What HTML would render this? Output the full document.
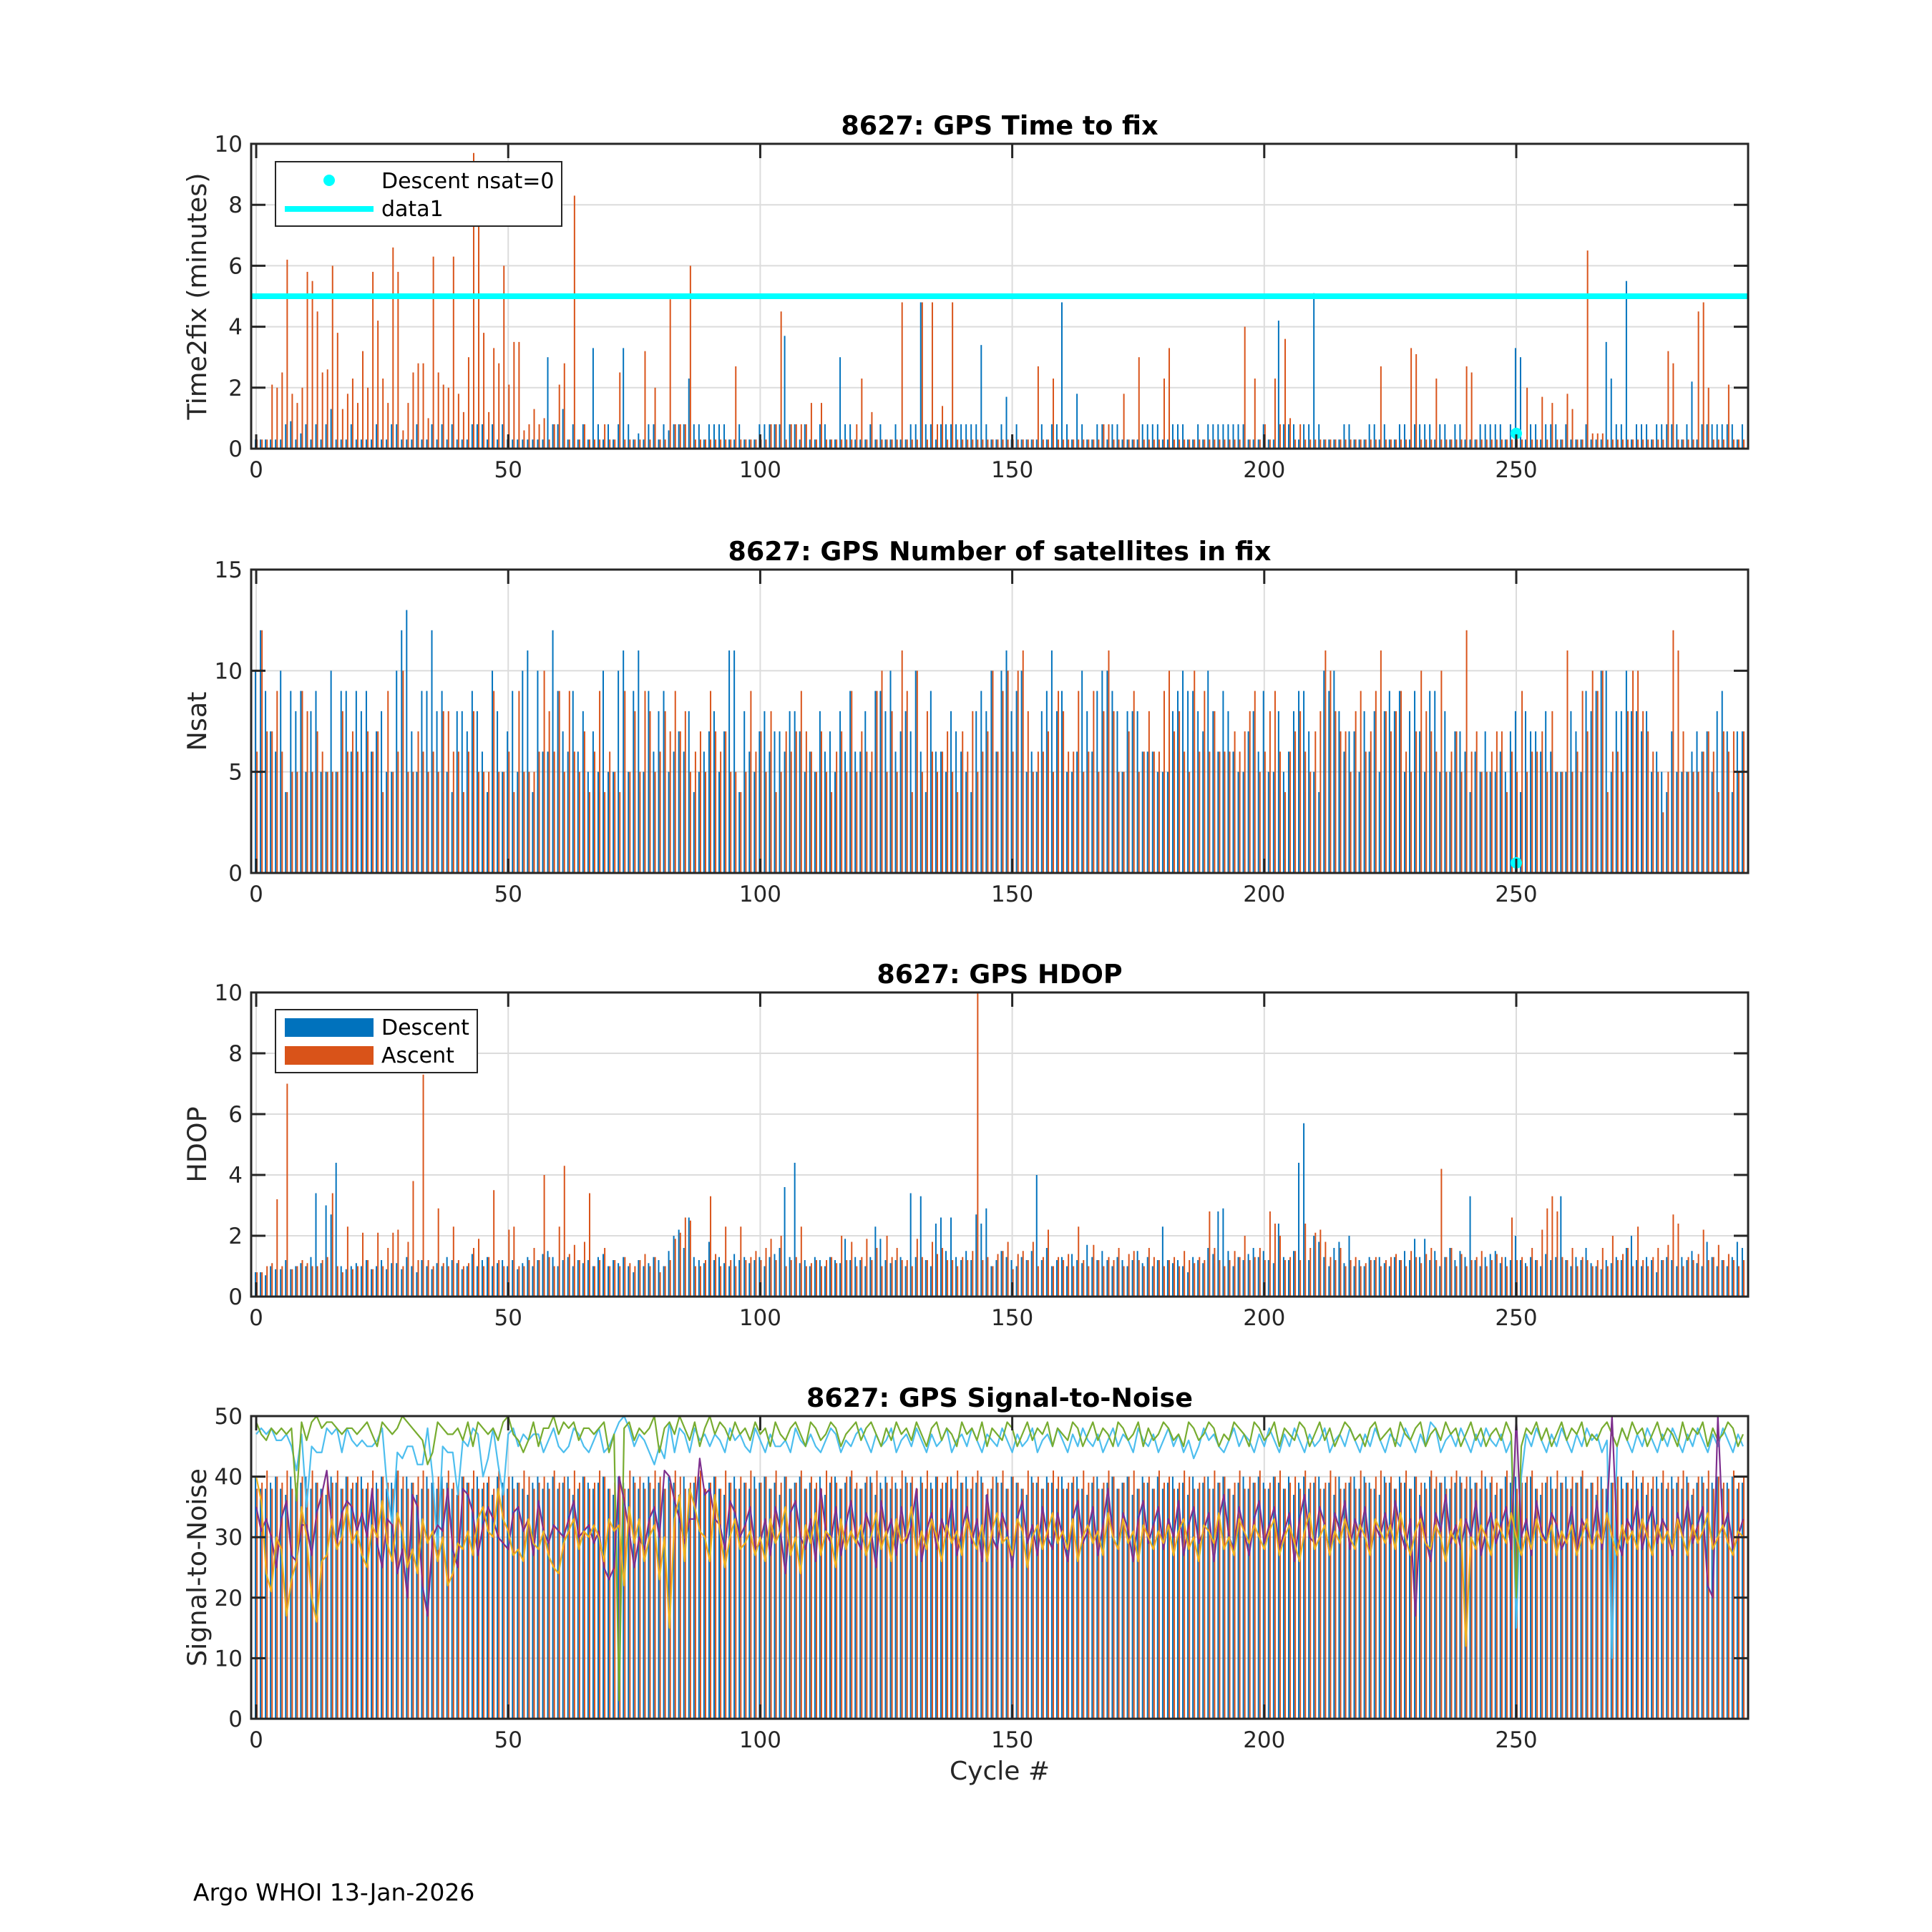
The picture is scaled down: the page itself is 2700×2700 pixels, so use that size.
<!DOCTYPE html>
<html><head><meta charset="utf-8"><style>
html,body{margin:0;padding:0;background:#fff}
svg{display:block}
text{font-family:"DejaVu Sans","Liberation Sans",sans-serif;fill:#262626}
</style></head><body>
<svg id="fig" width="2700" height="2700" viewBox="0 0 2700 2700" xmlns="http://www.w3.org/2000/svg">
<rect width="2700" height="2700" fill="#fff"/>
<text x="270" y="2656" font-size="33" style="fill:#000">Argo WHOI 13-Jan-2026</text>
<text x="1397" y="2487" font-size="36" text-anchor="middle">Cycle #</text>
</svg>
<script>
const timeD=[0.3,0.3,0.3,0.3,0.3,0.3,0.8,0.9,0.3,0.5,0.8,0.3,0.8,0.3,0.8,1.3,0.3,0.3,0.3,0.8,
0.3,0.3,0.3,0.3,0.8,0.3,0.3,0.8,0.8,0.3,0.3,0.3,0.8,0.3,0.3,0.8,0.3,0.8,0.3,0.8,
0.3,0.3,0.3,0.8,0.8,0.8,0.3,0.8,0.3,0.8,0.3,0.3,0.3,0.3,0.3,0.3,0.3,0.3,3.0,0.8,
0.8,1.3,0.3,0.8,0.3,0.8,0.3,3.3,0.8,0.3,0.8,0.3,0.8,3.3,0.8,0.3,0.5,0.3,0.8,0.8,
0.3,0.8,0.6,0.8,0.8,0.8,2.3,0.8,0.8,0.3,0.8,0.8,0.8,0.8,0.3,0.3,0.8,0.3,0.3,0.3,
0.8,0.8,0.8,0.8,0.8,3.7,0.8,0.8,0.3,0.8,0.3,0.3,0.8,0.8,0.3,0.3,3.0,0.8,0.8,0.3,
0.3,0.3,0.8,0.3,0.8,0.3,0.3,0.8,0.3,0.3,0.8,0.8,4.8,0.8,0.8,0.3,0.8,0.8,0.8,0.8,
0.8,0.8,0.8,0.8,3.4,0.8,0.3,0.3,0.8,1.7,0.3,0.8,0.3,0.3,0.3,0.3,0.8,0.3,0.8,0.8,
4.8,0.8,0.3,1.8,0.8,0.3,0.3,0.8,0.8,0.3,0.8,0.8,0.3,0.3,0.3,0.3,0.8,0.8,0.8,0.8,
0.3,0.3,0.8,0.8,0.8,0.3,0.3,0.8,0.3,0.8,0.8,0.8,0.8,0.8,0.8,0.8,0.8,0.3,0.3,0.3,
0.8,0.3,0.3,4.2,0.8,0.8,0.8,0.3,0.8,0.8,5.1,0.8,0.3,0.3,0.3,0.3,0.8,0.8,0.3,0.3,
0.3,0.8,0.8,0.3,0.8,0.3,0.3,0.8,0.8,0.3,0.8,0.8,0.8,0.8,0.3,0.8,0.8,0.3,0.8,0.8,
0.3,0.3,0.3,0.8,0.8,0.8,0.8,0.8,0.3,0.8,3.3,3.0,0.3,0.8,0.8,0.3,0.8,0.8,0.8,0.3,
0.8,0.3,0.3,0.3,0.8,0.3,0.3,0.3,3.5,2.3,0.8,0.8,5.5,0.3,0.8,0.8,0.8,0.3,0.8,0.8,
0.8,0.8,0.8,0.3,0.8,2.2,0.3,0.8,0.8,0.8,0.8,0.8,0.8,0.8,0.3,0.8];
const timeA=[0.3,0.3,0.3,2.1,2.0,2.5,6.2,1.8,1.5,2.0,5.8,5.5,4.5,2.5,2.6,6.0,3.8,1.3,1.8,2.3,
1.5,3.2,2.0,5.8,4.2,2.3,1.5,6.6,5.8,0.6,1.5,2.5,2.8,2.8,1.0,6.3,2.5,2.1,2.0,6.3,
1.8,1.2,3.0,9.7,7.8,3.8,1.2,3.3,2.8,6.0,2.1,3.5,3.5,0.6,0.8,1.3,0.8,1.0,0.3,0.8,
2.1,2.8,0.3,8.3,0.3,0.8,0.3,0.3,0.3,0.8,0.3,0.3,2.5,0.3,0.3,0.3,0.3,3.2,0.3,2.0,
0.3,0.3,4.9,0.8,0.8,0.8,6.0,0.3,0.3,0.3,0.3,0.3,0.3,0.3,0.3,2.7,0.3,0.3,0.3,0.3,
0.3,0.3,0.8,0.8,4.5,0.3,0.8,0.8,0.8,0.8,1.5,0.3,1.5,0.3,0.3,0.3,0.3,0.3,0.3,0.8,
2.3,0.3,1.2,0.3,0.3,0.3,0.3,0.3,4.8,0.3,0.3,0.3,4.8,0.3,4.8,0.8,1.4,0.3,4.8,0.3,
0.3,0.3,0.3,0.3,0.3,0.3,0.3,0.3,0.3,0.3,0.3,0.3,0.3,0.3,0.3,2.7,0.3,0.3,2.3,0.3,
0.3,0.3,0.3,0.3,0.3,0.3,0.3,0.3,0.8,0.8,0.3,0.3,1.8,0.3,0.3,3.0,0.3,0.3,0.3,0.3,
2.3,3.3,0.3,0.3,0.3,0.3,0.3,0.3,0.3,0.3,0.3,0.3,0.3,0.3,0.3,0.3,4.0,0.3,2.3,0.3,
0.8,0.3,2.3,0.8,3.6,1.0,0.3,0.8,0.3,0.3,0.3,0.3,0.3,0.3,0.3,0.3,0.3,0.3,0.3,0.3,
0.3,0.3,0.3,2.7,0.3,0.3,0.3,0.3,0.3,3.3,3.1,0.3,0.3,0.3,2.3,0.3,0.3,0.3,0.3,0.3,
2.7,2.5,0.3,0.3,0.3,0.3,0.3,0.3,0.3,0.3,0.3,0.3,2.0,0.3,0.3,1.7,0.3,1.5,0.3,0.3,
1.8,1.3,0.3,0.3,6.5,0.5,0.5,0.5,0.3,0.3,0.3,0.3,0.3,0.3,0.3,0.3,0.3,0.3,0.3,0.3,
3.2,2.8,0.3,0.3,0.3,0.3,4.5,4.8,2.0,0.3,0.3,0.3,2.1,0.3,0.3,0.3];
const nsatD=[10,12,9,7,6,10,4,9,8,9,5,8,9,5,5,10,5,9,9,6,
9,8,9,6,7,8,5,5,10,12,13,7,5,9,9,12,8,9,5,4,
8,8,7,9,8,6,4,10,8,5,7,9,5,10,11,4,10,6,6,12,
9,7,6,9,6,8,5,7,5,10,5,5,10,11,5,9,11,5,9,6,
8,9,5,6,7,6,8,4,5,6,7,8,5,7,11,11,4,8,6,5,
7,8,6,7,7,6,8,8,7,5,6,5,8,6,7,5,8,6,9,6,
6,8,5,9,9,8,10,6,7,8,7,10,6,4,9,6,6,5,8,7,
6,5,4,8,9,8,10,6,10,11,8,9,10,5,6,5,8,9,11,8,
9,5,5,6,10,8,6,9,10,10,9,8,5,8,8,8,6,6,6,5,
5,5,8,9,10,9,9,8,7,10,8,6,9,8,6,5,5,7,8,6,
9,5,5,8,5,6,8,9,9,7,5,4,10,9,10,8,6,7,7,5,
8,6,8,5,8,9,8,9,5,8,9,7,5,9,9,5,8,5,7,7,
6,4,6,5,7,5,5,6,5,7,8,4,8,7,7,6,8,6,5,5,
5,8,7,5,9,8,9,10,10,5,8,8,10,8,8,7,8,5,6,5,
4,7,5,5,5,6,7,6,7,5,8,9,7,4,7,7];
const nsatA=[6,12,7,7,9,6,4,5,5,9,8,5,7,6,5,5,5,8,6,7,
6,5,7,6,7,4,9,5,6,10,5,5,7,6,5,6,5,8,8,6,
6,4,6,8,5,5,5,9,5,5,6,4,9,5,5,5,6,10,8,6,
9,5,9,6,5,7,4,6,9,4,6,5,4,9,5,8,5,9,8,5,
6,8,7,9,7,8,5,6,7,5,9,7,6,7,5,5,4,5,9,6,
7,5,8,4,5,7,6,7,9,7,6,5,7,5,4,6,7,5,9,5,
7,6,6,9,10,5,8,5,11,9,4,10,5,8,6,5,6,7,5,4,
7,6,8,5,6,7,10,6,9,10,6,10,11,8,5,6,6,7,5,9,
8,6,6,9,5,6,9,5,8,11,8,5,5,7,9,5,6,8,6,6,
9,10,7,8,6,5,10,6,9,6,8,6,6,6,7,6,7,8,9,5,
6,8,9,6,4,6,7,8,6,5,7,8,11,10,8,7,7,5,8,9,
6,7,9,11,8,7,8,9,6,5,7,10,8,7,6,10,5,6,7,5,
12,6,7,5,5,6,7,7,4,6,5,9,5,6,6,7,5,8,5,5,
11,5,6,9,7,10,9,10,4,6,6,5,8,10,10,8,7,6,5,3,
5,12,11,7,5,5,5,6,7,6,4,7,6,7,5,7];
const hdopD=[0.8,0.8,0.7,1.0,0.9,0.9,1.2,0.9,1.0,1.1,1.0,1.3,3.4,1.1,3.0,2.7,4.4,1.0,0.9,1.0,
1.1,1.0,1.2,0.9,1.0,1.2,0.9,1.1,1.1,0.9,1.3,1.0,0.8,1.2,1.0,0.9,1.1,1.0,1.3,1.2,
1.1,0.9,1.0,1.4,1.0,1.2,1.3,1.0,1.1,1.2,1.0,1.2,0.9,1.1,1.3,1.0,1.2,1.4,1.5,1.3,
1.0,1.2,1.3,1.0,1.2,1.1,1.2,1.0,1.3,1.4,1.0,1.2,1.1,1.3,1.0,0.8,1.2,1.0,1.1,1.3,
1.2,1.0,1.5,2.0,2.2,1.6,2.6,1.3,1.2,1.1,1.8,1.2,1.3,1.1,1.0,1.4,1.2,1.3,1.1,1.2,
1.3,1.0,1.3,1.4,1.6,3.6,1.3,4.4,1.1,1.2,1.0,1.3,1.2,1.0,1.3,1.2,1.1,1.9,1.2,1.3,
1.2,1.0,1.3,2.3,1.9,1.2,1.1,1.2,1.3,1.0,3.4,1.3,3.3,1.2,1.0,2.4,2.6,1.5,2.6,1.3,
1.2,1.5,1.2,2.7,2.4,2.9,1.0,1.2,1.5,1.3,1.2,1.0,1.3,1.2,1.5,4.0,1.2,1.6,1.0,1.2,
1.3,1.0,1.4,1.2,1.1,1.7,1.3,1.2,1.5,1.2,1.0,1.3,1.2,1.0,1.2,1.5,1.1,1.3,1.0,1.2,
2.3,1.2,1.1,1.2,1.0,0.8,1.3,1.2,1.1,1.6,1.4,2.8,2.9,1.5,1.0,1.3,1.2,1.4,1.6,1.3,
1.5,1.2,1.1,2.4,1.3,1.2,1.5,4.4,5.7,1.2,2.0,1.8,1.3,1.0,1.6,1.8,1.1,2.0,1.0,1.2,
1.0,1.3,1.2,1.3,1.1,1.0,1.3,1.2,1.5,1.2,1.9,1.3,1.9,1.2,1.5,1.0,1.3,1.6,1.2,1.5,
1.3,3.3,1.2,1.0,1.3,1.4,1.5,1.1,1.3,1.2,2.0,1.2,1.1,1.3,1.2,1.0,1.4,1.2,1.3,3.3,
1.2,1.0,1.3,1.2,1.6,1.1,1.0,0.9,1.2,1.1,1.3,1.2,1.6,2.0,1.2,1.0,1.3,1.2,0.8,1.2,
1.3,1.2,1.0,1.3,1.2,1.5,1.1,1.0,1.8,1.3,1.0,1.2,1.0,1.3,1.8,1.6];
const hdopA=[0.8,0.8,1.0,1.1,3.2,1.0,7.0,0.9,1.0,1.2,1.1,1.0,1.0,1.2,1.3,3.4,1.0,0.8,2.3,0.9,
1.0,2.1,1.2,0.9,2.1,1.0,1.6,2.1,2.2,1.0,1.8,3.8,1.2,7.3,1.2,1.0,2.9,1.1,1.0,2.3,
1.2,1.0,1.1,1.6,1.9,1.0,1.3,3.5,1.2,1.0,2.2,2.3,1.0,1.0,1.2,1.6,1.2,4.0,1.3,1.0,
2.3,4.3,1.4,1.7,1.2,1.8,3.4,1.0,1.2,1.6,1.0,1.2,1.0,1.3,1.1,1.0,1.2,1.4,1.0,1.3,
0.8,1.0,1.2,1.9,2.1,2.6,2.5,1.0,1.0,1.2,3.3,1.4,1.0,2.3,1.2,1.0,2.3,1.2,1.3,1.5,
1.2,1.6,1.9,1.2,2.0,1.0,1.2,1.3,2.3,1.0,1.1,1.2,1.0,1.2,1.3,1.1,2.0,1.2,1.8,1.0,
1.3,1.9,1.2,1.6,1.0,2.0,1.3,1.6,1.2,1.2,1.0,1.9,1.3,1.2,1.8,1.4,1.6,1.2,1.2,1.0,
1.3,1.2,1.5,10,1.2,1.3,1.0,1.4,1.5,1.8,0.9,1.4,1.5,1.2,1.8,1.0,1.3,2.2,1.0,1.3,
1.2,1.4,1.0,2.3,1.2,1.0,1.7,1.2,1.0,1.3,1.2,1.6,1.0,1.4,1.5,1.2,1.0,1.6,1.3,1.2,
1.0,1.2,1.3,1.0,1.5,1.2,1.1,1.3,1.2,2.8,1.6,1.2,1.0,1.2,1.5,1.3,2.0,1.2,1.3,1.6,
1.2,2.8,2.4,2.0,1.2,1.3,1.5,1.2,2.4,1.6,2.1,2.2,1.8,1.3,1.2,1.6,1.0,1.2,1.3,1.0,
1.1,1.2,1.3,1.0,1.2,1.3,1.4,1.2,1.0,1.5,1.3,1.1,1.4,1.6,1.2,4.2,1.3,1.6,1.0,1.4,
1.0,1.2,1.3,1.5,1.0,1.2,1.4,1.3,1.0,2.6,1.2,1.3,1.0,1.6,1.2,2.2,2.9,3.3,2.8,1.3,
1.2,1.6,1.0,1.3,1.2,1.0,1.2,1.6,1.0,2.0,1.2,1.4,1.6,1.0,2.3,1.2,1.0,1.3,1.6,1.2,
1.7,2.7,2.4,1.0,1.3,1.2,1.4,2.2,1.2,1.3,1.7,1.2,1.4,1.2,1.0,1.2];
const snrD=[40,38,38,39,40,38,37,40,38,39,40,38,39,38,37,40,39,38,40,38,
39,40,38,37,39,40,38,39,41,38,40,39,37,38,40,39,38,40,39,38,
37,40,39,38,40,38,39,37,40,39,38,40,39,38,37,39,40,38,39,40,
38,39,40,37,38,40,39,38,39,40,38,37,40,39,38,40,38,39,40,38,
39,38,40,39,37,40,38,39,40,38,39,40,38,37,39,40,38,39,38,40,
39,40,38,39,37,40,38,39,40,38,39,38,40,37,39,40,38,39,40,38,
38,39,40,37,39,40,38,39,38,40,39,37,40,38,39,40,38,39,40,38,
39,40,38,39,40,37,38,40,39,38,40,39,38,37,40,39,38,40,39,38,
40,38,39,40,38,37,39,40,38,39,40,38,39,40,37,38,40,39,38,40,
38,39,40,38,39,37,40,38,39,40,38,39,40,38,37,39,40,38,39,40,
39,38,40,39,38,40,37,39,40,38,39,40,38,39,37,40,38,39,40,38,
40,39,38,37,40,39,38,40,39,38,40,37,39,40,38,39,40,38,39,40,
38,40,39,38,40,39,37,38,40,39,40,38,39,40,38,37,39,40,38,39,
40,38,39,40,38,39,37,40,38,39,38,40,39,38,40,39,37,38,40,39,
38,40,39,38,40,37,39,40,38,39,40,38,39,40,38,39];
const snrA=[38,39,41,38,40,39,41,38,39,40,38,41,39,38,40,39,41,38,40,39,
40,38,39,41,38,40,39,38,41,40,38,39,40,41,38,39,40,38,41,39,
38,40,39,41,38,39,40,38,41,39,40,38,39,41,40,38,39,40,38,41,
39,40,38,41,39,40,38,39,41,40,38,39,40,38,41,39,40,38,39,41,
40,38,39,41,40,38,39,40,41,38,39,40,38,41,39,38,40,39,41,38,
39,40,38,41,39,40,38,39,41,38,40,39,38,41,40,39,38,40,41,39,
38,40,39,41,38,39,40,38,41,39,40,38,39,41,38,40,39,40,38,41,
39,38,40,41,39,38,40,39,41,38,40,39,38,41,39,40,38,39,41,40,
38,39,40,38,41,39,40,38,39,41,40,38,39,40,41,38,39,40,38,41,
39,40,38,39,41,40,38,39,40,38,41,39,40,38,39,41,38,40,39,41,
38,39,40,41,38,39,40,38,41,39,40,38,39,41,40,38,39,40,38,41,
39,38,40,41,39,40,38,39,41,38,40,39,38,41,40,39,38,40,41,39,
40,38,39,41,38,40,39,38,41,40,38,39,40,41,38,39,40,38,41,39,
38,40,39,41,38,39,40,38,41,39,40,38,39,41,38,40,39,40,38,41,
39,38,40,41,39,38,40,39,41,38,40,39,38,41,39,40];
const snrLB=[47,48,47,48,46,46,47,45,41,47,35,45,44,44,48,47,48,44,48,46,
45,46,45,45,46,48,38,32,44,43,45,45,42,42,48,40,28,45,44,44,
37,46,45,48,47,40,43,48,42,37,47,48,45,47,46,47,47,44,46,48,
45,44,45,48,47,45,44,46,48,44,45,47,49,50,48,45,47,46,44,42,
45,43,49,44,48,47,44,48,46,47,45,47,46,44,48,46,47,45,44,48,
46,44,47,45,45,46,44,48,46,45,47,45,44,46,48,47,44,46,45,47,
48,46,44,47,45,46,48,44,46,47,45,48,46,44,47,45,46,48,44,46,
47,45,48,46,44,47,46,45,48,46,44,47,45,46,48,44,46,47,45,48,
46,44,47,45,48,46,45,47,44,46,48,45,47,46,44,48,46,45,47,44,
46,48,45,47,44,46,43,45,48,46,47,45,44,46,48,45,47,46,44,47,
45,48,46,44,47,45,48,46,44,47,45,46,48,44,46,47,45,48,46,44,
47,45,48,46,44,47,46,45,48,46,44,47,45,49,48,44,46,47,45,48,
46,44,47,45,48,46,45,47,44,46,15,40,47,45,48,46,44,47,45,48,
46,44,47,45,48,46,47,44,46,10,45,48,46,44,47,45,48,46,44,47,
45,48,46,44,47,45,48,46,44,47,45,48,46,44,47,45];
const snrGR=[49,47,46,48,47,48,47,48,36,49,46,49,50,48,49,49,48,47,48,48,
47,48,49,47,45,49,48,47,48,50,49,48,47,46,42,44,49,48,47,47,
48,46,49,45,49,48,47,48,46,49,50,47,46,44,46,49,45,48,48,50,
47,49,48,49,46,48,48,47,48,49,44,47,3,48,49,46,48,47,48,50,
44,48,49,47,50,48,46,49,45,48,50,47,49,48,46,49,47,48,46,49,
47,48,45,49,47,46,48,49,47,45,49,48,46,47,49,48,45,47,48,49,
46,48,49,47,45,48,46,49,47,48,46,49,47,45,48,49,46,48,47,45,
49,47,48,46,49,45,48,47,46,49,48,45,47,49,46,48,47,49,45,48,
47,46,49,48,45,47,49,46,48,47,45,49,48,46,47,49,45,48,46,47,
49,48,46,47,45,49,48,46,47,49,48,45,47,46,49,48,47,45,49,48,
46,47,49,45,48,47,46,49,48,45,47,49,46,48,45,47,49,48,46,47,
45,48,49,46,47,48,45,49,47,46,48,49,45,47,48,46,49,47,48,45,
47,49,46,48,45,47,48,46,49,47,20,45,48,47,49,46,48,45,47,49,
46,48,47,49,45,47,46,48,49,47,45,48,46,49,47,48,45,47,49,46,
48,47,45,49,46,48,47,49,45,48,46,47,49,48,45,47];
const snrPU=[35,31,33,30,25,33,36,27,26,32,32,27,34,37,41,32,29,34,36,35,
31,34,30,38,29,25,33,32,24,28,20,37,35,22,17,30,32,31,38,28,
25,38,37,34,27,32,35,33,30,29,28,34,35,31,33,27,36,31,29,32,
31,30,33,36,30,31,32,29,31,25,23,25,40,36,31,25,30,28,33,35,
30,41,40,36,33,29,33,33,43,37,38,33,32,28,36,34,30,32,35,28,
29,33,27,35,31,24,34,36,30,28,33,26,38,31,29,35,27,32,36,30,
28,34,31,25,36,30,33,27,35,29,32,38,26,31,34,28,33,30,36,27,
31,35,29,33,26,37,30,28,34,31,25,33,36,29,32,27,35,30,28,34,
30,26,33,36,29,31,35,27,32,38,30,28,34,31,26,33,36,29,32,35,
28,33,30,36,27,32,35,29,31,34,26,33,37,30,28,35,31,27,33,36,
29,32,35,28,31,34,26,33,37,30,29,35,32,27,34,31,36,28,33,30,
35,27,32,30,34,29,36,31,28,33,17,35,30,26,34,31,37,29,32,28,
33,30,36,27,31,34,29,32,35,28,50,30,33,27,36,31,29,34,32,28,
30,35,27,33,31,29,36,28,34,50,30,27,33,31,36,28,32,35,29,33,
31,27,34,30,36,29,32,35,22,20,50,31,34,28,30,33];
const snrYE=[40,36,24,21,30,28,17,23,26,35,30,20,16,26,27,33,28,30,35,29,
31,27,25,32,30,36,29,26,34,31,25,28,24,33,29,31,26,30,22,24,
29,28,31,27,33,35,31,30,38,33,31,27,28,26,33,29,28,31,27,25,
24,29,31,33,28,31,30,32,30,26,33,31,32,22,35,29,33,26,30,32,
23,30,15,33,37,26,38,35,31,30,26,37,31,25,30,33,28,29,31,27,
30,26,33,29,31,35,27,30,24,32,29,34,27,31,30,25,33,28,31,29,
32,27,30,34,28,31,26,33,29,30,35,27,31,28,33,30,26,32,29,31,
27,33,30,28,32,26,31,34,29,30,27,33,31,25,30,32,28,31,34,29,
31,28,33,26,30,32,29,31,27,34,30,28,33,29,31,26,32,30,28,31,
29,32,27,31,33,28,30,26,32,31,29,34,28,30,27,33,31,29,32,30,
28,31,33,27,30,32,29,26,31,34,28,30,32,27,31,29,33,30,28,32,
30,27,33,31,29,32,28,34,30,27,31,33,29,28,32,30,26,31,29,33,
12,30,28,32,30,27,33,31,29,34,30,27,31,28,33,30,29,32,27,31,
29,32,27,30,33,28,31,29,34,30,27,32,29,31,28,33,30,27,32,29,
31,28,33,30,27,32,29,31,34,28,30,32,29,27,31,30];
const xTicks=[0,50,100,150,200,250];
const nsatZeroCycle=[250];
const nsatZeroTime=[0.5];
const nsatZeroVal=[0.5];
const refLine=[5];

const NS='http://www.w3.org/2000/svg';
const svg=document.getElementById('fig');
const XL=351,XR=2443,XMIN=-1,XMAX=296;
function xs(v){return XL+(v-XMIN)/(XMAX-XMIN)*(XR-XL);}
function mk(tag,attrs,parent){const e=document.createElementNS(NS,tag);for(const k in attrs)e.setAttribute(k,attrs[k]);(parent||svg).appendChild(e);return e;}
const C_D='#0072BD',C_A='#D95319';

function makeAxes(name,top,bot,ymax,yticks,title,ylabel){
  const g=mk('g',{});
  
  
  const ys=v=>bot-(v/ymax)*(bot-top);
  const cid='clip-'+name;
  const cp=mk('clipPath',{id:cid},g);mk('rect',{x:XL,y:top,width:XR-XL,height:bot-top},cp);
  xTicks.forEach(t=>{const l=mk('line',{x1:xs(t),x2:xs(t),y1:top,y2:bot,stroke:'#dcdcdc','stroke-width':2},g);
    });
  yticks.forEach(t=>{const l=mk('line',{x1:XL,x2:XR,y1:ys(t),y2:ys(t),stroke:'#dcdcdc','stroke-width':2},g);
    });
  const plot=mk('g',{'clip-path':'url(#'+cid+')'},g);
  
  return {g,plot,ys,top,bot,yticks,title,ylabel,name};
}
function finishAxes(ax){
  const {g,ys,top,bot,yticks}=ax;
  const frame=mk('rect',{x:XL,y:top,width:XR-XL,height:bot-top,fill:'none',stroke:'#262626','stroke-width':3},g);
  
  xTicks.forEach(t=>{
    mk('line',{x1:xs(t),x2:xs(t),y1:bot,y2:bot-20,stroke:'#262626','stroke-width':3},g);
    mk('line',{x1:xs(t),x2:xs(t),y1:top,y2:top+20,stroke:'#262626','stroke-width':3},g);
    const tx=mk('text',{x:xs(t),y:bot+40,'font-size':31,'text-anchor':'middle'},g);tx.textContent=t;
    
  });
  yticks.forEach(t=>{
    mk('line',{x1:XL,x2:XL+20,y1:ys(t),y2:ys(t),stroke:'#262626','stroke-width':3},g);
    mk('line',{x1:XR,x2:XR-20,y1:ys(t),y2:ys(t),stroke:'#262626','stroke-width':3},g);
    const tx=mk('text',{x:XL-12,y:ys(t)+11,'font-size':31,'text-anchor':'end'},g);tx.textContent=t;
    
  });
  const ti=mk('text',{x:(XL+XR)/2,y:top-13,'font-size':36.5,'font-weight':'bold','text-anchor':'middle',style:'fill:#000'},g);
  ti.textContent=ax.title;
  const cy=(top+bot)/2;
  const yl=mk('text',{x:288,y:cy,'font-size':36.5,'text-anchor':'middle',transform:'rotate(-90 288 '+cy+')'},g);
  yl.textContent=ax.ylabel;
}
function drawBars(ax,dv,av){
  const w=(xs(0.28)-xs(0));
  dv.forEach((v,i)=>{const r=mk('rect',{x:xs(i-0.15)-w/2,y:ax.ys(v),width:w,height:ax.bot-ax.ys(v),fill:C_D},ax.plot);
    });
  av.forEach((v,i)=>{const r=mk('rect',{x:xs(i+0.15)-w/2,y:ax.ys(v),width:w,height:ax.bot-ax.ys(v),fill:C_A},ax.plot);
    });
}
function drawLine(ax,vals,color,name){
  const pts=vals.map((v,i)=>xs(i)+','+ax.ys(v)).join(' ');
  const p=mk('polyline',{points:pts,fill:'none',stroke:color,'stroke-width':2.2,'stroke-linejoin':'round'},ax.plot);
  
}
function dot(ax,cx,v){const c=mk('circle',{cx:xs(cx),cy:ax.ys(v),r:8,fill:'#00FFFF'},ax.plot);
  }

// Panel 1
const a1=makeAxes('time-to-fix-chart',201,627,10,[0,2,4,6,8,10],'8627: GPS Time to fix','Time2fix (minutes)');
drawBars(a1,timeD,timeA);
refLine.forEach(v=>{const l=mk('line',{x1:XL,x2:XR,y1:a1.ys(v),y2:a1.ys(v),stroke:'#00FFFF','stroke-width':8},a1.plot);
  });
nsatZeroCycle.forEach((c,i)=>dot(a1,c,nsatZeroTime[i]));
finishAxes(a1);
{const lg=mk('g',{});
 mk('rect',{x:385,y:226,width:400,height:90,fill:'#fff',stroke:'#262626','stroke-width':2},lg);
 mk('circle',{cx:460,cy:252,r:8,fill:'#00FFFF'},lg);
 mk('line',{x1:398,x2:522,y1:292,y2:292,stroke:'#00FFFF','stroke-width':8},lg);
 const t1=mk('text',{x:533,y:263,'font-size':30,style:'fill:#000'},lg);t1.textContent='Descent nsat=0';
 
 const t2=mk('text',{x:533,y:302,'font-size':30,style:'fill:#000'},lg);t2.textContent='data1';
 }

// Panel 2
const a2=makeAxes('nsat-chart',796,1220,15,[0,5,10,15],'8627: GPS Number of satellites in fix','Nsat');
drawBars(a2,nsatD,nsatA);
nsatZeroCycle.forEach((c,i)=>dot(a2,c,nsatZeroVal[i]));
finishAxes(a2);

// Panel 3
const a3=makeAxes('hdop-chart',1387,1812,10,[0,2,4,6,8,10],'8627: GPS HDOP','HDOP');
drawBars(a3,hdopD,hdopA);
finishAxes(a3);
{const lg=mk('g',{});
 mk('rect',{x:385,y:1411,width:282,height:88,fill:'#fff',stroke:'#262626','stroke-width':2},lg);
 mk('rect',{x:398,y:1423,width:124,height:26,fill:C_D},lg);
 mk('rect',{x:398,y:1462,width:124,height:26,fill:C_A},lg);
 const t1=mk('text',{x:533,y:1446,'font-size':30,style:'fill:#000'},lg);t1.textContent='Descent';
 
 const t2=mk('text',{x:533,y:1485,'font-size':30,style:'fill:#000'},lg);t2.textContent='Ascent';
 }

// Panel 4
const a4=makeAxes('snr-chart',1979,2402,50,[0,10,20,30,40,50],'8627: GPS Signal-to-Noise','Signal-to-Noise');
drawBars(a4,snrD,snrA);
drawLine(a4,snrLB,'#4DBEEE','snr-line-lightblue');
drawLine(a4,snrGR,'#77AC30','snr-line-green');
drawLine(a4,snrPU,'#7E2F8E','snr-line-purple');
drawLine(a4,snrYE,'#EDB120','snr-line-yellow');
finishAxes(a4);
</script>
</body></html>
